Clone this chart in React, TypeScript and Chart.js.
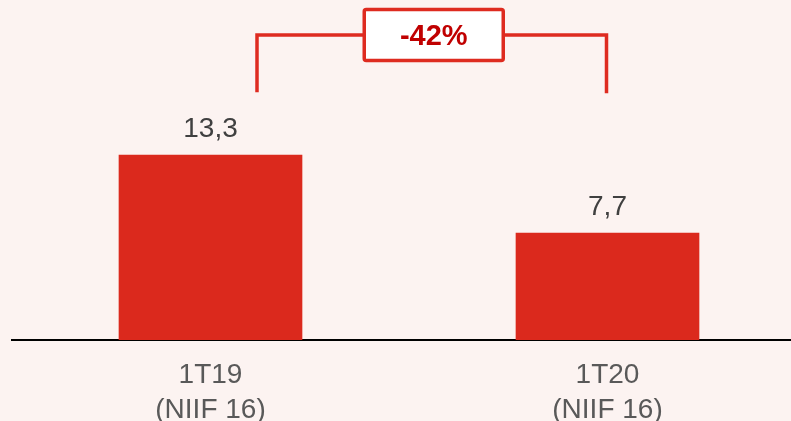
import React, { useEffect, useRef } from "react";
import { Chart, registerables } from "chart.js";

Chart.register(...registerables);

const categories: string[][] = [["1T19", "(NIIF 16)"], ["1T20", "(NIIF 16)"]];
const values: number[] = [13.3, 7.7];
const changeLabel = "-42%";

const BG = "#FCF3F1";
const RED = "#DB291D";
const FONT = "'Liberation Sans', Arial, sans-serif";

const fmt = (v: number) => v.toFixed(1).replace(".", ",");

const overlayPlugin = {
  id: "overlay",
  afterDatasetsDraw(chart: any) {
    const ctx = chart.ctx as CanvasRenderingContext2D;
    const meta = chart.getDatasetMeta(0);
    const bars = meta.data;
    ctx.save();
    // value labels
    ctx.font = `28px ${FONT}`;
    ctx.fillStyle = "#404040";
    ctx.textAlign = "center";
    ctx.textBaseline = "alphabetic";
    bars.forEach((b: any, i: number) => {
      ctx.fillText(fmt(values[i]), b.x, b.y - 18);
    });
    // bracket
    const b1 = bars[0];
    const b2 = bars[1];
    const xl = b1.x + 46.5;
    const xr = b2.x - 1;
    const yTop = 35;
    const ylBottom = b1.y - 63;
    const yrBottom = ylBottom + 1;
    ctx.strokeStyle = "#DE2B20";
    ctx.lineWidth = 3.5;
    ctx.lineCap = "butt";
    ctx.lineJoin = "miter";
    ctx.beginPath();
    ctx.moveTo(xl, ylBottom);
    ctx.lineTo(xl, yTop);
    ctx.lineTo(xr, yTop);
    ctx.lineTo(xr, yrBottom);
    ctx.stroke();
    // box
    const cx = (xl + xr) / 2 + 2;
    const bw = 139;
    const bh = 51;
    const bx = cx - bw / 2;
    const by = yTop - 25.5;
    ctx.beginPath();
    if ((ctx as any).roundRect) (ctx as any).roundRect(bx, by, bw, bh, 2);
    else ctx.rect(bx, by, bw, bh);
    ctx.fillStyle = "#FFFFFF";
    ctx.fill();
    ctx.stroke();
    ctx.font = `bold 29px ${FONT}`;
    ctx.fillStyle = "#C00000";
    ctx.textAlign = "center";
    ctx.textBaseline = "middle";
    ctx.fillText(changeLabel, cx, yTop + 1.5);
    ctx.restore();
  },
};

export default function App() {
  const ref = useRef<HTMLCanvasElement>(null);
  useEffect(() => {
    if (!ref.current) return;
    const chart = new Chart(ref.current, {
      type: "bar",
      data: {
        labels: categories as any,
        datasets: [
          {
            data: values,
            backgroundColor: RED,
            borderWidth: 0,
            barThickness: 183,
          },
        ],
      },
      options: {
        responsive: false,
        maintainAspectRatio: false,
        animation: false,
        devicePixelRatio: 1,
        layout: { padding: { top: 62, left: 12, right: 0, bottom: 0 } },
        plugins: {
          legend: { display: false },
          tooltip: { enabled: false },
        },
        scales: {
          y: { display: false, min: 0, max: 20 },
          x: {
            afterFit: (s: any) => {
              s.height = 81;
            },
            grid: { display: false, drawTicks: false },
            border: { display: true, color: "#000000", width: 2 },
            ticks: {
              color: "#595959",
              font: { family: FONT, size: 28, lineHeight: 1.28 },
              padding: 17,
              maxRotation: 0,
              autoSkip: false,
            },
          },
        },
      },
      plugins: [overlayPlugin],
    });
    return () => chart.destroy();
  }, []);
  return (
    <div
      style={{
        position: "fixed",
        left: 0,
        top: 0,
        width: 791,
        height: 421,
        overflow: "hidden",
        background: BG,
      }}
    >
      <canvas ref={ref} width={806} height={421} style={{ display: "block" }} />
    </div>
  );
}
